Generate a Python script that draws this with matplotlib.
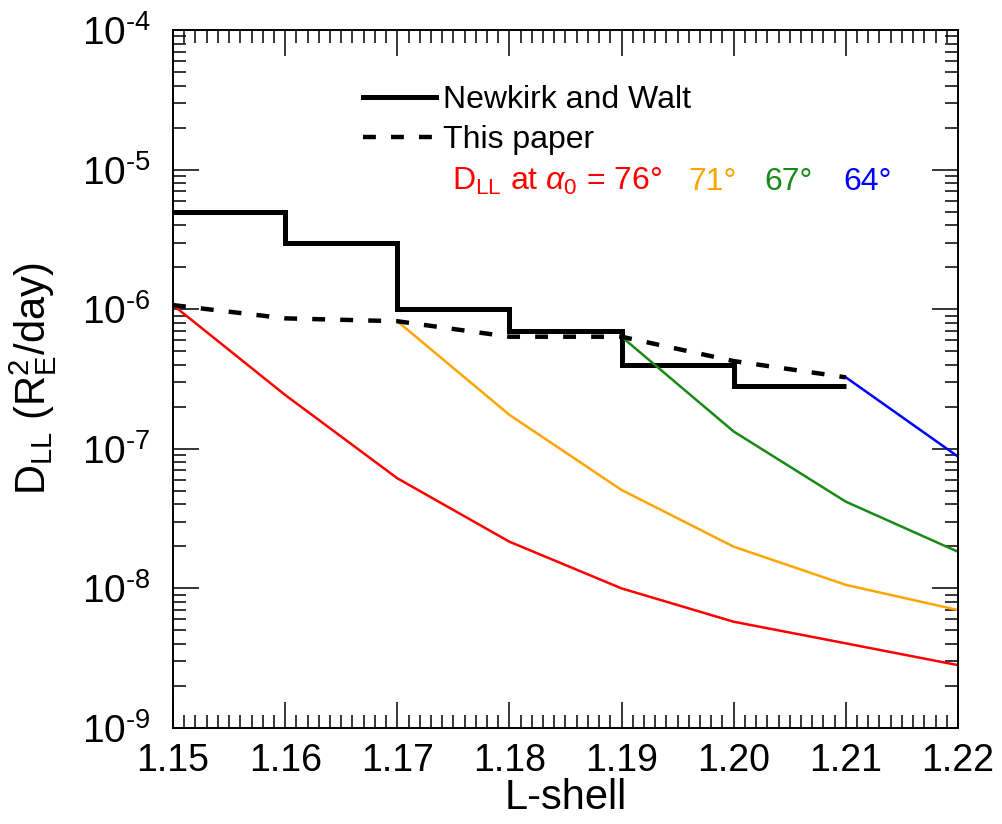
import numpy as np
import matplotlib
matplotlib.use('Agg')
import matplotlib.pyplot as plt
from matplotlib.ticker import MultipleLocator, FixedLocator, LogLocator, NullFormatter, FormatStrFormatter, FuncFormatter

plt.rcParams['font.family'] = ['Liberation Sans', 'DejaVu Sans']
plt.rcParams['mathtext.fontset'] = 'custom'
plt.rcParams['mathtext.rm'] = 'Liberation Sans'
plt.rcParams['mathtext.it'] = 'Liberation Sans:italic'
plt.rcParams['mathtext.bf'] = 'Liberation Sans:bold'
plt.rcParams['axes.unicode_minus'] = False

# Newkirk and Walt: constant D_LL in each L-shell bin
nw_edges = [1.15, 1.16, 1.17, 1.18, 1.19, 1.20, 1.21]
nw_values = [5.0e-6, 3.0e-6, 1.0e-6, 7.0e-7, 4.0e-7, 2.8e-7]

# this paper (dashed)
paper_L = [1.15, 1.16, 1.17, 1.18, 1.19, 1.20, 1.21]
paper_D = [1.07e-6, 8.6e-7, 8.2e-7, 6.35e-7, 6.35e-7, 4.25e-7, 3.25e-7]

# D_LL at fixed equatorial pitch angle
L_76 = [1.15, 1.16, 1.17, 1.18, 1.19, 1.20, 1.21, 1.22]
D_76 = [1.07e-6, 2.43e-7, 6.15e-8, 2.16e-8, 1.0e-8, 5.77e-9, 4.04e-9, 2.82e-9]
L_71 = [1.17, 1.18, 1.19, 1.20, 1.21, 1.22]
D_71 = [8.2e-7, 1.75e-7, 5.07e-8, 1.99e-8, 1.06e-8, 7.0e-9]
L_67 = [1.19, 1.20, 1.21, 1.22]
D_67 = [6.35e-7, 1.33e-7, 4.18e-8, 1.83e-8]
L_64 = [1.21, 1.22]
D_64 = [3.25e-7, 8.8e-8]

angles = ['76°', '71°', '67°', '64°']
colors = ['#ff0000', '#ffa500', '#178a17', '#0000ff']

y_exponents = [-9, -8, -7, -6, -5, -4]
HYPHEN = '\u2010'


def pow10_label(v, pos):
    return '10$^{\\mathrm{' + HYPHEN + '%d}}$' % round(-np.log10(v))


fig = plt.figure(figsize=(10.03, 8.24), dpi=100)
ax = fig.add_axes([0.1725, 0.1165, 0.7826, 0.8471])

for L, D, c in zip([L_76, L_71, L_67, L_64], [D_76, D_71, D_67, D_64], colors):
    ax.plot(L, D, color=c, lw=1.8)

ax.stairs(nw_values, nw_edges, baseline=None, color='black', lw=3.6,
          label='Newkirk and Walt')
ax.plot(paper_L, paper_D, color='black', lw=3.2, dashes=(2.9, 3.4),
        label='This paper')

ax.set_yscale('log')
ax.set_xlim(1.15, 1.22)
ax.set_ylim(1e-9, 1e-4)

ax.xaxis.set_major_locator(MultipleLocator(0.01))
ax.xaxis.set_minor_locator(MultipleLocator(0.001))
ax.xaxis.set_major_formatter(FormatStrFormatter('%.2f'))
ax.yaxis.set_major_locator(FixedLocator([10.0 ** e for e in y_exponents]))
ax.yaxis.set_major_formatter(FuncFormatter(pow10_label))
ax.yaxis.set_minor_locator(LogLocator(base=10, subs=np.arange(2, 10), numticks=20))
ax.yaxis.set_minor_formatter(NullFormatter())

ax.tick_params(which='both', direction='in', top=True, right=True, width=1.1)
ax.tick_params(which='major', length=19)
ax.tick_params(which='minor', length=9.5)
ax.tick_params(axis='x', which='major', labelsize=27, pad=11)
ax.tick_params(axis='y', which='major', labelsize=28, pad=16)
for s in ax.spines.values():
    s.set_linewidth(1.4)

ax.set_xlabel('L-shell', fontsize=30, labelpad=-1)
ax.set_ylabel(r'D$_{\mathrm{LL}}$ (R$_{\mathrm{E}}^{\mathrm{2}}$/day)', fontsize=30)
ax.yaxis.set_label_coords(-0.145, 0.5)

ax.legend(loc='upper left', bbox_to_anchor=(0.205, 0.962), frameon=False,
          fontsize=23, handlelength=2.3, handletextpad=0.2, labelspacing=0.3)

# pitch-angle key, coloured like the curves
ax.text(0.355, 0.771, r'D$_{\mathrm{LL}}$ at $\alpha_0$ = ' + angles[0],
        color=colors[0], fontsize=23, transform=ax.transAxes, va='baseline')
for xpos, a, c in zip([0.656, 0.754, 0.854], angles[1:], colors[1:]):
    ax.text(xpos, 0.771, a, color=c, fontsize=23, transform=ax.transAxes, va='baseline')

fig.savefig('out.png', dpi=100)
